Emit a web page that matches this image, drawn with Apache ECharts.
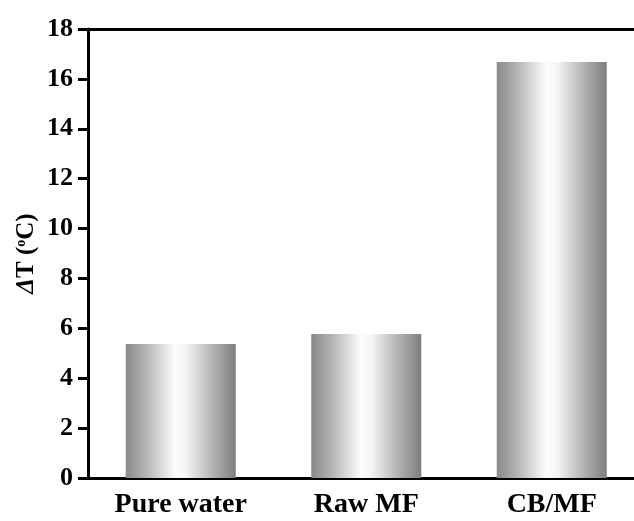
<!DOCTYPE html>
<html>
<head>
<meta charset="utf-8">
<script src="https://cdn.jsdelivr.net/npm/echarts@6/dist/echarts.min.js"></script>
<style>html,body{margin:0;padding:0;background:#fff;width:634px;height:521px;overflow:hidden}#c{width:646px;height:521px}</style>
</head>
<body>
<div id="c"></div>
<script>
const categories = ['Pure water', 'Raw MF', 'CB/MF'];
const deltaT = [5.37, 5.77, 16.68];
const yTicks = [0, 2, 4, 6, 8, 10, 12, 14, 16, 18];

const font = '"Liberation Serif", "Times New Roman", serif';
const chart = echarts.init(document.getElementById('c'));
const grad = new echarts.graphic.LinearGradient(0, 0, 1, 0, [
  {offset: 0, color: '#888888'},
  {offset: 0.2, color: '#b8b8b8'},
  {offset: 0.45, color: '#fdfdfd'},
  {offset: 0.55, color: '#f4f4f4'},
  {offset: 0.8, color: '#b0b0b0'},
  {offset: 1, color: '#7e7e7e'}
]);
chart.setOption({
  animation: false,
  grid: {left: 88, top: 29, bottom: 43, right: 1.5},
  xAxis: [{
    type: 'category',
    data: categories,
    axisLine: {lineStyle: {color: '#000', width: 3}},
    axisTick: {alignWithLabel: true, length: 8, lineStyle: {color: '#000', width: 3}},
    axisLabel: {color: '#000', fontFamily: font, fontWeight: 'bold', fontSize: 28, margin: 13}
  }, {
    type: 'category',
    position: 'top',
    data: categories,
    axisLine: {show: true, onZero: false, lineStyle: {color: '#000', width: 3}},
    axisTick: {show: false},
    axisLabel: {show: false}
  }],
  yAxis: {
    type: 'value',
    min: yTicks[0],
    max: yTicks[yTicks.length - 1],
    interval: 2,
    splitLine: {show: false},
    axisLine: {show: true, lineStyle: {color: '#000', width: 3}},
    axisTick: {show: true, length: 10, lineStyle: {color: '#000', width: 3}},
    axisLabel: {color: '#000', fontFamily: font, fontWeight: 'bold', fontSize: 26, margin: 15},
    name: '{d|Δ}{n|T (}{s|o}{n|C)}',
    nameLocation: 'middle',
    nameGap: 49,
    nameMoveOverlap: false,
    nameRotate: 90,
    nameTextStyle: {
      rich: {
        d: {fontFamily: font, fontStyle: 'italic', fontWeight: 'bold', fontSize: 25, color: '#000'},
        n: {fontFamily: font, fontWeight: 'bold', fontSize: 25, color: '#000'},
        s: {fontFamily: font, fontWeight: 'bold', fontSize: 14, color: '#000', verticalAlign: 'top', padding: [0, 0, 10, 0]}
      }
    }
  },
  series: [{
    type: 'bar',
    data: deltaT,
    barWidth: 110,
    itemStyle: {color: grad}
  }]
});
</script>
</body>
</html>
